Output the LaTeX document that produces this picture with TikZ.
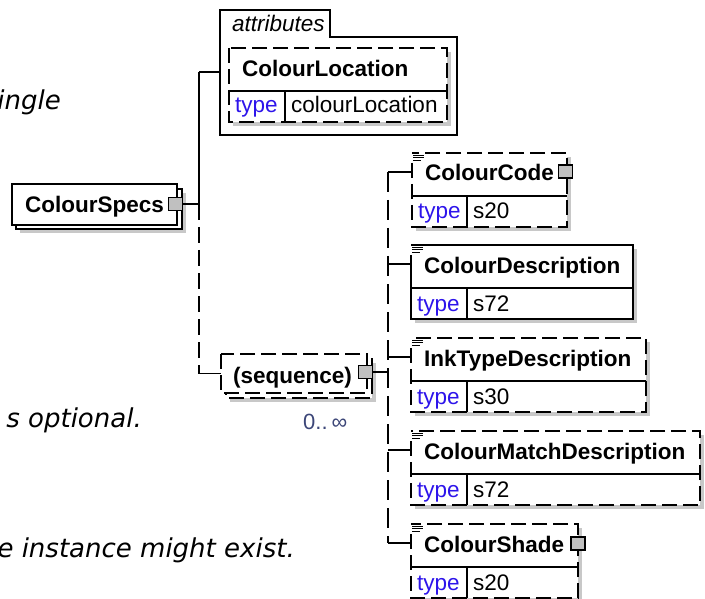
\documentclass[tikz,border=0pt]{standalone}
\usepackage{fontspec}
\setmainfont{Liberation Sans}
\newfontfamily\verd{DejaVu Sans}[ItalicFont={DejaVu Sans Oblique}]
\definecolor{typeblue}{RGB}{45,20,235}
\definecolor{shadowgrey}{RGB}{200,200,200}
\definecolor{sqgrey}{RGB}{192,192,192}
\definecolor{occblue}{RGB}{60,70,120}
\tikzset{
 boxline/.style={line width=1.7pt, line cap=butt},
 dashline/.style={boxline, dash pattern=on 15pt off 6pt},
 solidline/.style={boxline},
 conn/.style={line width=1.7pt},
 anchorbox/.style={shape=rectangle, inner sep=0pt, outer sep=0pt, anchor=north west},
 nametext/.style={font=\fontsize{22.5}{27}\selectfont\bfseries, inner sep=0pt, anchor=base west},
 typetext/.style={font=\fontsize{22.5}{27}\selectfont, text=typeblue, inner sep=0pt, anchor=base west},
 valtext/.style={font=\fontsize{22.5}{27}\selectfont, inner sep=0pt, anchor=base west},
 sq/.style={draw, line width=1.4pt, fill=sqgrey, inner sep=0pt, outer sep=0pt, minimum width=14pt, minimum height=13pt},
 note/.style={font=\verd\itshape\fontsize{26}{30}\selectfont, inner sep=0pt, anchor=base east},
}
% #1 name, #2 left, #3 top, #4 right, #5 line style, #6 label, #7 value
\newcommand\elembox[7]{%
 \fill[shadowgrey] ({#2+4},{#3+4}) rectangle ({#4+4},{#3+78});
 \fill[white] (#2,#3) rectangle (#4,{#3+74});
 \node[anchorbox, minimum width={#4-#2}, minimum height=38] (#1) at (#2,#3) {};
 \node[anchorbox, minimum width={#4-#2}, minimum height=31] (#1-t) at (#2,{#3+43}) {};
 \draw[#5] (#2,{#3+10}) -- (#2,{#3+74}) -- (#4,{#3+74}) -- (#4,#3) -- (#2,#3);
 \draw[solidline] (#2,{#3+43}) -- (#4,{#3+43});
 \draw[solidline] (467,{#3+43}) -- (467,{#3+74});
 \draw[line width=0.8pt] ({#2+1},{#3+2}) -- ++(11,0) ({#2+1},{#3+4.5}) -- ++(11,0) ({#2+1},{#3+7}) -- ++(8,0);
 \node[nametext] (#1-n) at ({#2+13},{#3+28}) {#6};
 \node[typetext] (#1-ty) at ({#2+6},{#3+66}) {type};
 \node[valtext] (#1-v) at (473,{#3+66}) {#7};
}
\begin{document}
\begin{tikzpicture}[x=1pt,y=-1pt]
\fill[white] (0,0) rectangle (705,599);
\useasboundingbox (0,0) rectangle (705,599);

% left notes
\node[note] (n1) at (61,110) {ingle};
\node[note] (n2) at (142,427) {s optional.};
\node[note] (n3) at (295,557) {e instance might exist.};

% attributes container
\node[anchorbox, minimum width=237, minimum height=98] (attrs) at (220,37) {};
\draw[solidline] (220,135) -- (220,10) -- (330,10) -- (330,37) -- (457,37) -- (457,135) -- cycle;
\node[font=\fontsize{22.5}{27}\selectfont\itshape, anchor=base west, inner sep=0pt] (attrlbl) at (232,32) {attributes};

% ColourLocation
\fill[shadowgrey] (233,52) rectangle (451,126);
\node[anchorbox, minimum width=218, minimum height=43] (cl) at (229,48) {};
\fill[white] (229,48) rectangle (447,122);
\draw[dashline] (229,48) rectangle (447,122);
\draw[solidline] (229,91) -- (447,91);
\draw[solidline] (285,91) -- (285,122);
\node[nametext] (cl-n) at (242,77) {ColourLocation};
\node[typetext] (cl-ty) at (235,113) {type};
\node[valtext] (cl-v) at (291,113) {colourLocation};

% ColourSpecs
\fill[shadowgrey] (20,193) rectangle (186,233);
\draw[solidline, fill=white] (16,189) rectangle (182,229);
\node[draw, solidline, fill=white, anchorbox, minimum width=165, minimum height=41] (specs) at (12,184) {};
\node[nametext] (specs-n) at (25,213) {ColourSpecs};
\node[sq] (specsq) at (175.5,204) {};

% sequence
\fill[shadowgrey] (230,363) rectangle (376,402);
\draw[dashline, fill=white] (226,359) rectangle (372,398);
\node[anchorbox, minimum width=146, minimum height=39] (seq) at (221,354) {};
\fill[white] (seq.north west) rectangle (seq.south east);
\draw[dashline] (seq.north west) rectangle (seq.south east);
\node[nametext] (seq-n) at (233,383) {(sequence)};
\node[sq] (seqsq) at (365.5,372) {};
\node[font=\fontsize{22}{26}\selectfont, text=occblue, anchor=base west, inner sep=0pt] (occ) at (303,429) {0..\hspace{4pt}∞};

% bus 1
\coordinate (b1a) at (199,72);
\coordinate (b1b) at (199,373.5);
\draw[conn] (specsq.east) -- (specsq.east -| b1a);
\draw[conn] (b1a) -- (specsq.east -| b1a);
\draw[conn, dash pattern=on 16pt off 7pt] (specsq.east -| b1a) -- (b1b);
\draw[conn] (b1a) -- (b1a -| attrs.west);
\draw[conn] (b1b) -- (seq.west);

% elements
\elembox{cc}{412}{153}{567}{dashline}{ColourCode}{s20}
\elembox{cd}{411}{245}{633}{solidline}{ColourDescription}{s72}
\elembox{it}{411}{338}{646}{dashline}{InkTypeDescription}{s30}
\elembox{cm}{411}{431}{700}{dashline}{ColourMatchDescription}{s72}
\elembox{cs}{411}{524}{578}{dashline}{ColourShade}{s20}
\node[sq] (ccsq) at (565.5,171.5) {};
\node[sq] (cssq) at (578,543.5) {};

% bus 2
\coordinate (b2a) at (388,172);
\draw[conn, dash pattern=on 20pt off 8pt] (cc.west -| b2a) -- (cs.west -| b2a);
\draw[conn] (seqsq.east) -- (seqsq.east -| b2a);
\foreach \e in {cc,cd,it,cm,cs} {
 \draw[conn] (\e.west -| b2a) -- (\e.west);
}
\end{tikzpicture}
\end{document}
